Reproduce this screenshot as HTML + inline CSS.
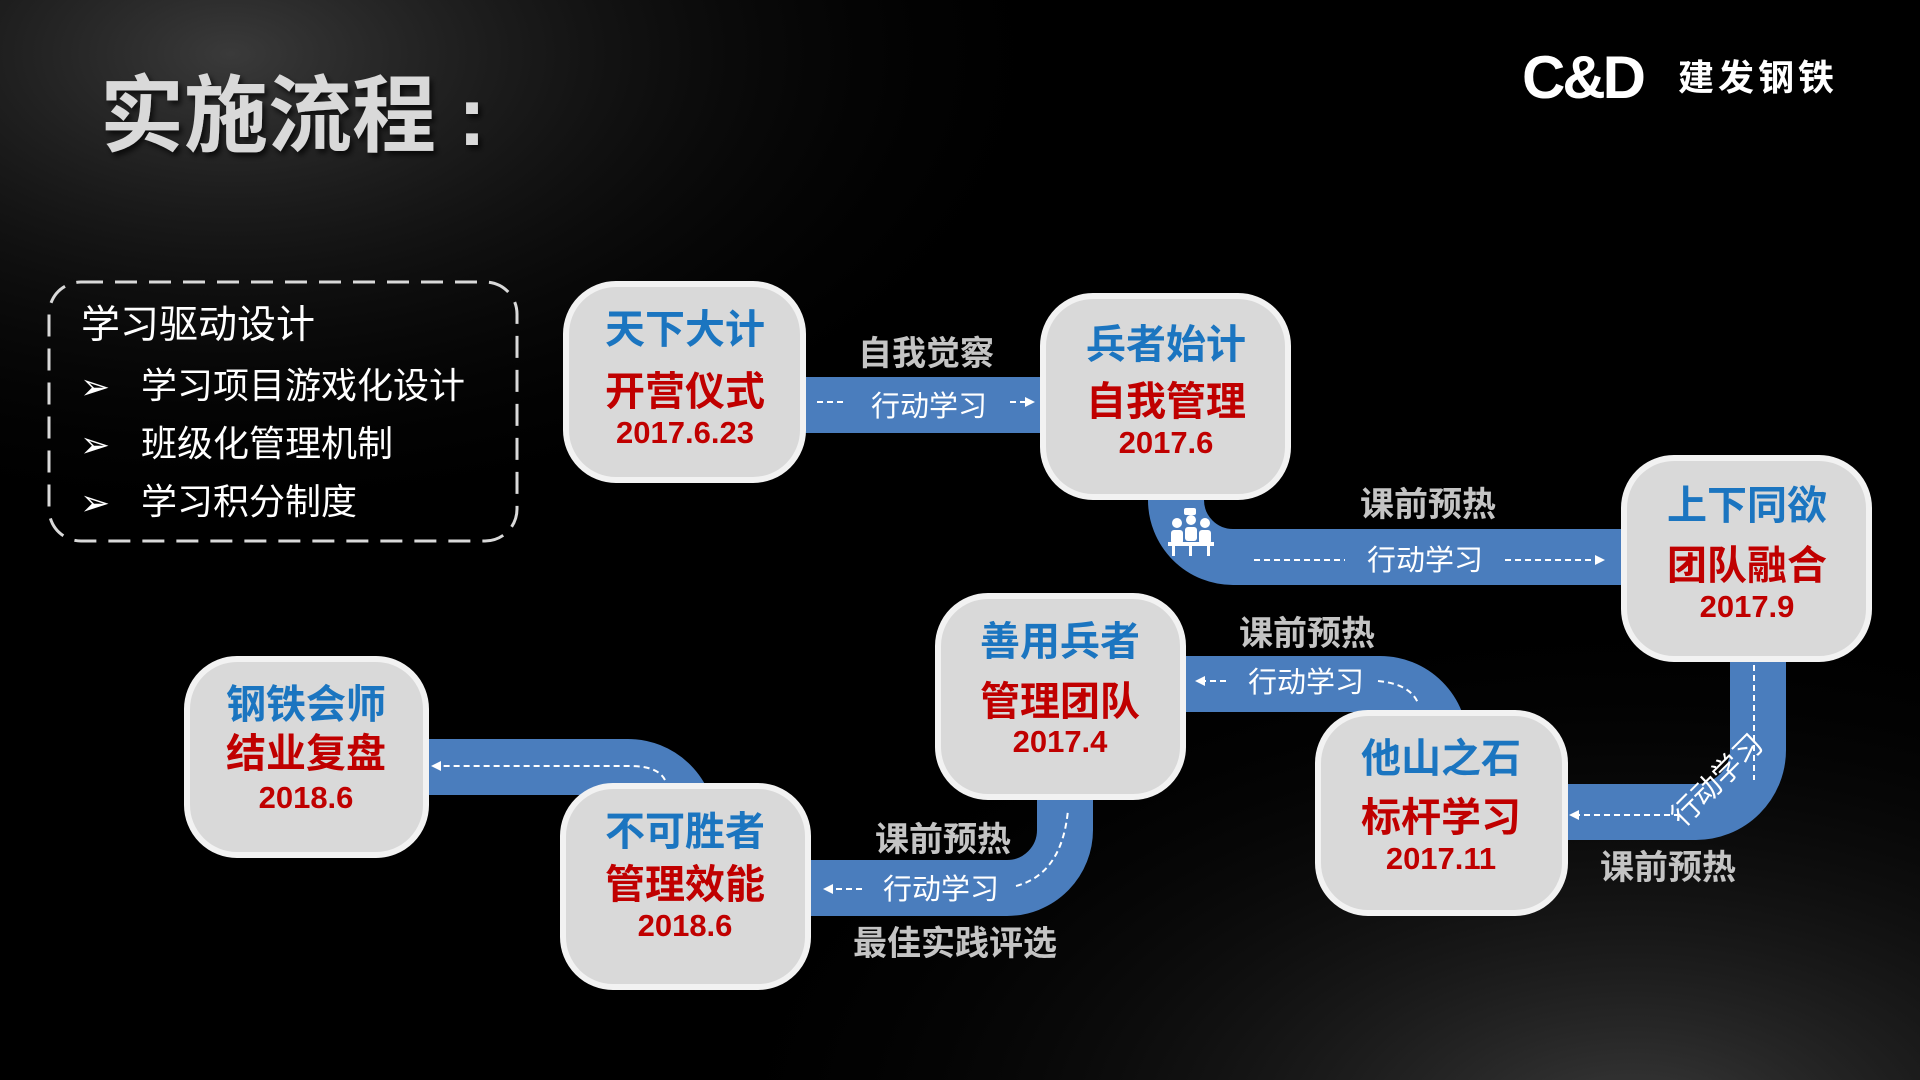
<!DOCTYPE html>
<html><head><meta charset="utf-8"><style>
html,body{margin:0;padding:0;width:1920px;height:1080px;overflow:hidden;background:#000}
svg{display:block}
text{font-family:"Liberation Sans","Noto Sans CJK SC",sans-serif}
</style></head><body>
<svg width="1920" height="1080" viewBox="0 0 1920 1080" xmlns="http://www.w3.org/2000/svg">
<defs>
<radialGradient id="g1" cx="0.12" cy="0.05" r="0.45">
<stop offset="0" stop-color="#3a3a3a"/><stop offset="1" stop-color="#000" stop-opacity="0"/></radialGradient>
<radialGradient id="g2" cx="0.85" cy="1.05" r="0.5">
<stop offset="0" stop-color="#3c3c3c"/><stop offset="1" stop-color="#000" stop-opacity="0"/></radialGradient>
<filter id="sh" x="-10%" y="-10%" width="130%" height="130%"><feDropShadow dx="3" dy="4" stdDeviation="3" flood-color="#000" flood-opacity="0.7"/></filter>
<marker id="ar" markerWidth="10" markerHeight="10" refX="7" refY="5" orient="auto" markerUnits="userSpaceOnUse"><path d="M0,0 L10,5 L0,10 z" fill="#fff"/></marker>
</defs>
<rect width="1920" height="1080" fill="#000"/>
<rect width="1920" height="1080" fill="url(#g1)"/>
<rect width="1920" height="1080" fill="url(#g2)"/>

<!-- title -->
<text x="100" y="145" font-size="84" font-weight="bold" fill="#d9d9d9" filter="url(#sh)">实施流程</text>
<text x="458" y="145" font-size="84" font-weight="bold" fill="#d9d9d9" filter="url(#sh)">:</text>
<!-- logo -->
<text x="1522" y="98" font-size="60" font-weight="bold" fill="#fff" letter-spacing="-3">C&amp;D</text>
<text x="1678" y="90" font-size="36" font-weight="bold" fill="#fff" letter-spacing="4">建发钢铁</text>

<!-- left dashed box -->
<rect x="49" y="282" width="468" height="259" rx="32" fill="none" stroke="#d9d9d9" stroke-width="3" stroke-dasharray="22,12"/>
<text x="81" y="338" font-size="39" fill="#fff">学习驱动设计</text>
<g font-size="36" fill="#fff">
<text x="80" y="399" font-size="36">➢</text><text x="141" y="398">学习项目游戏化设计</text>
<text x="80" y="457" font-size="36">➢</text><text x="141" y="456">班级化管理机制</text>
<text x="80" y="515" font-size="36">➢</text><text x="141" y="514">学习积分制度</text>
</g>

<!-- connectors -->
<g fill="none" stroke="#4a7dbd" stroke-width="56">
<path d="M790,405 L1060,405"/>
<path d="M1176,470 L1176,500 A57,57 0 0 0 1233,557 L1640,557"/>
<path d="M1758,640 L1758,750 A62,62 0 0 1 1696,812 L1550,812"/>
<path d="M1170,684 L1380,684 A60,60 0 0 1 1440,744 L1440,770"/>
<path d="M1065,780 L1065,830 A58,58 0 0 1 1007,888 L795,888"/>
<path d="M410,767 L628,767 A60,60 0 0 1 688,827 L688,850"/>
</g>

<!-- dashed lines -->
<g fill="none" stroke="#fff" stroke-width="2" stroke-dasharray="6,4">
<path d="M817,402 L847,402"/>
<path d="M1010,402 L1032,402" marker-end="url(#ar)"/>
<path d="M1254,560 L1345,560"/>
<path d="M1505,560 L1602,560" marker-end="url(#ar)"/>
<path d="M1754,665 L1754,780"/>
<path d="M1680,815 L1572,815" marker-end="url(#ar)"/>
<path d="M1226,681 L1198,681" marker-end="url(#ar)"/>
<path d="M1378,681 Q1410,684 1418,703"/>
<path d="M862,889 L826,889" marker-end="url(#ar)"/>
<path d="M1016,886 Q1062,874 1068,810"/>
<path d="M665,780 Q658,766 630,766 L434,766" marker-end="url(#ar)"/>
</g>

<!-- 行动学习 labels -->
<g font-size="29" fill="#fff" text-anchor="middle">
<text x="929" y="416">行动学习</text>
<text x="1425" y="570">行动学习</text>
<text x="1306" y="692">行动学习</text>
<text x="941" y="899">行动学习</text>
<text transform="translate(1724,787) rotate(-45)">行动学习</text>
</g>

<!-- people icon -->
<g fill="#fff">
<circle cx="1177" cy="523" r="5"/><circle cx="1191" cy="520" r="5"/><circle cx="1205" cy="523" r="5"/>
<rect x="1171" y="530" width="12" height="14" rx="3"/><rect x="1185" y="527" width="12" height="14" rx="3"/><rect x="1199" y="530" width="12" height="14" rx="3"/>
<rect x="1168" y="542" width="46" height="4"/>
<rect x="1172" y="546" width="3" height="10"/><rect x="1207" y="546" width="3" height="10"/><rect x="1189" y="546" width="3" height="10"/>
<rect x="1184" y="508" width="12" height="7" rx="2"/>
</g>

<!-- gray labels -->
<g font-size="34" font-weight="bold" fill="#c4c4c4" text-anchor="middle">
<text x="926" y="365">自我觉察</text>
<text x="1428" y="516">课前预热</text>
<text x="1307" y="645">课前预热</text>
<text x="1668" y="879">课前预热</text>
<text x="943" y="851">课前预热</text>
<text x="955" y="955">最佳实践评选</text>
</g>

<!-- nodes -->
<g fill="#d9d9d9" stroke="#f2f2f2" stroke-width="6">
<rect x="566" y="284" width="237" height="196" rx="50"/>
<rect x="1043" y="296" width="245" height="201" rx="50"/>
<rect x="1624" y="458" width="245" height="201" rx="50"/>
<rect x="1318" y="713" width="247" height="200" rx="50"/>
<rect x="938" y="596" width="245" height="201" rx="50"/>
<rect x="563" y="786" width="245" height="201" rx="50"/>
<rect x="187" y="659" width="239" height="196" rx="50"/>
</g>

<g font-weight="bold" text-anchor="middle">
<g transform="translate(685,0)">
<text y="343" font-size="40" fill="#1b75c0">天下大计</text>
<text y="405" font-size="40" fill="#c00000">开营仪式</text>
<text y="443" font-size="31" fill="#c00000">2017.6.23</text></g>
<g transform="translate(1166,0)">
<text y="358" font-size="40" fill="#1b75c0">兵者始计</text>
<text y="415" font-size="40" fill="#c00000">自我管理</text>
<text y="453" font-size="31" fill="#c00000">2017.6</text></g>
<g transform="translate(1747,0)">
<text y="519" font-size="40" fill="#1b75c0">上下同欲</text>
<text y="579" font-size="40" fill="#c00000">团队融合</text>
<text y="617" font-size="31" fill="#c00000">2017.9</text></g>
<g transform="translate(1441,0)">
<text y="772" font-size="40" fill="#1b75c0">他山之石</text>
<text y="831" font-size="40" fill="#c00000">标杆学习</text>
<text y="869" font-size="31" fill="#c00000">2017.11</text></g>
<g transform="translate(1060,0)">
<text y="655" font-size="40" fill="#1b75c0">善用兵者</text>
<text y="715" font-size="40" fill="#c00000">管理团队</text>
<text y="752" font-size="31" fill="#c00000">2017.4</text></g>
<g transform="translate(685,0)">
<text y="845" font-size="40" fill="#1b75c0">不可胜者</text>
<text y="898" font-size="40" fill="#c00000">管理效能</text>
<text y="936" font-size="31" fill="#c00000">2018.6</text></g>
<g transform="translate(306,0)">
<text y="718" font-size="40" fill="#1b75c0">钢铁会师</text>
<text y="767" font-size="40" fill="#c00000">结业复盘</text>
<text y="808" font-size="31" fill="#c00000">2018.6</text></g>
</g>
</svg>
</body></html>
